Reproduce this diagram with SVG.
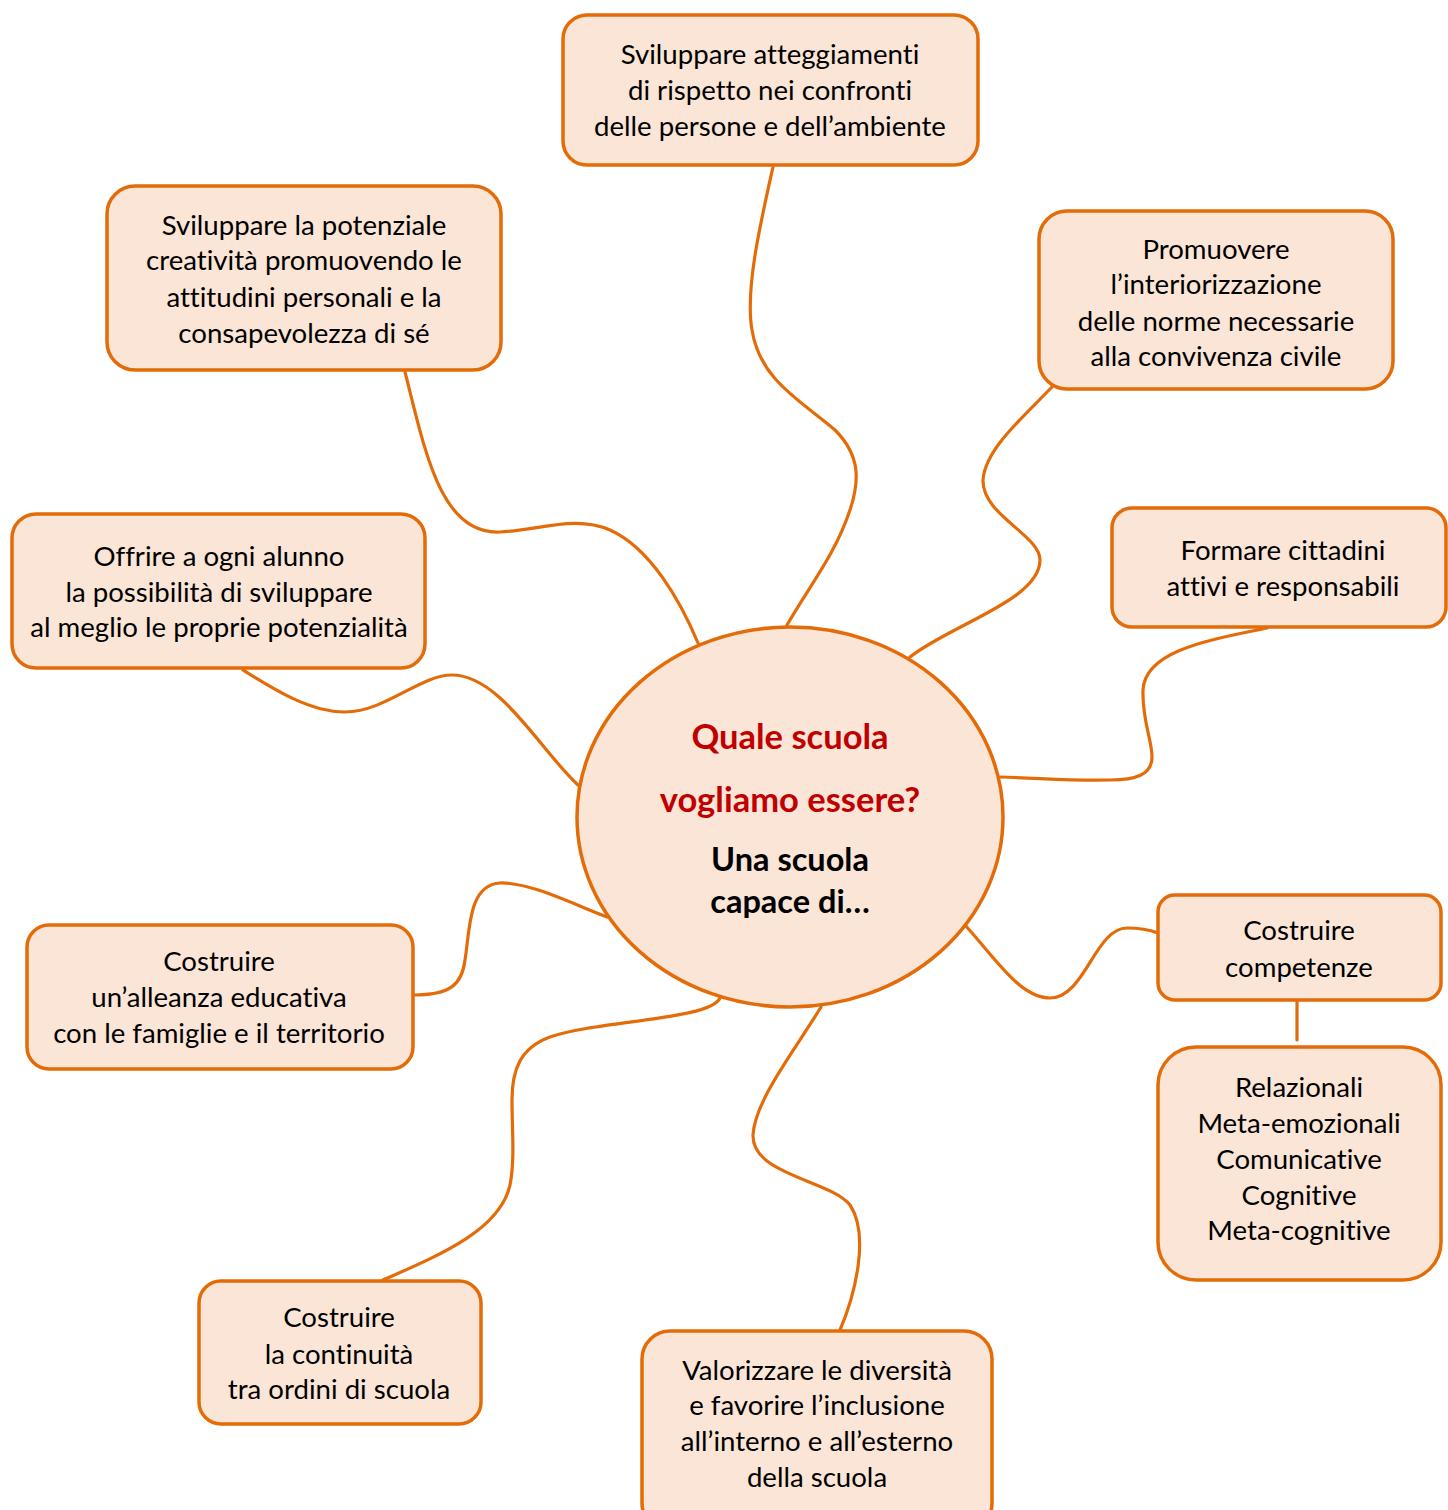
<svg xmlns="http://www.w3.org/2000/svg" width="1448" height="1510" viewBox="0 0 1448 1510">
<style>
.box{fill:#FBE5D6;stroke:#E36C09;stroke-width:3.5}
.con{fill:none;stroke:#E36C09;stroke-width:3.2;stroke-linecap:round}
.t{font-family:Lato,"Open Sans","Liberation Sans",sans-serif;font-size:27.6px;fill:#000;text-anchor:middle;font-variant-ligatures:none}
.h{font-family:Lato,"Open Sans","Liberation Sans",sans-serif;font-size:34.5px;font-weight:bold;text-anchor:middle;font-variant-ligatures:none}
.h2{font-family:Lato,"Open Sans","Liberation Sans",sans-serif;font-size:32.5px;font-weight:bold;text-anchor:middle;font-variant-ligatures:none}
</style>
<rect width="1448" height="1510" fill="#fff"/>
<g id="connectors">
<path class="con" d="M773,167 C760,225 745,290 752,330 C760,380 800,400 835,430 C860,455 860,480 850,510 C835,555 810,585 787,625"/>
<path class="con" d="M405,372 C425,450 440,535 500,532 C540,530 575,515 610,530 C650,548 680,600 698,643"/>
<path class="con" d="M1052,387 C1020,420 985,450 983,480 C982,515 1040,535 1040,560 C1040,600 950,625 910,657"/>
<path class="con" d="M1267,628 C1210,640 1145,650 1143,690 C1142,720 1152,740 1152,757 C1152,775 1135,780 1110,780 C1070,781 1040,778 1000,777"/>
<path class="con" d="M243,670 C275,690 310,712 345,712 C385,712 420,675 452,675 C500,675 540,750 578,785"/>
<path class="con" d="M413,995 C450,995 462,985 465,960 C470,930 468,885 500,883 C530,882 575,905 607,917"/>
<path class="con" d="M720,998 C710,1020 600,1020 550,1037 C520,1048 512,1070 512,1100 C512,1130 515,1160 510,1185 C500,1230 440,1255 383,1280"/>
<path class="con" d="M821,1007 C795,1050 755,1100 753,1135 C752,1175 830,1180 850,1205 C870,1235 855,1295 840,1330"/>
<path class="con" d="M965,925 C995,958 1020,998 1050,998 C1085,998 1095,928 1127,928 C1140,928 1150,930 1158,933"/>
<path class="con" d="M1297,1001 L1297,1040"/>
</g>
<g id="center">
<ellipse class="box" cx="790" cy="817" rx="213" ry="190"/>
<text class="h" x="790" y="749" fill="#C00000">Quale scuola</text>
<text class="h" x="790" y="812" fill="#C00000">vogliamo essere?</text>
<text class="h2" x="790" y="871" fill="#000">Una scuola</text>
<text class="h2" x="790" y="913" fill="#000">capace di…</text>
</g>
<g id="n-rispetto">
<rect class="box" x="563" y="15" width="415" height="150" rx="24"/>
<text class="t" x="770" y="64">Sviluppare atteggiamenti</text>
<text class="t" x="770" y="100">di rispetto nei confronti</text>
<text class="t" x="770" y="136">delle persone e dell’ambiente</text>
</g>
<g id="n-creativita">
<rect class="box" x="107" y="186" width="394" height="184" rx="28"/>
<text class="t" x="304" y="235">Sviluppare la potenziale</text>
<text class="t" x="304" y="270">creatività promuovendo le</text>
<text class="t" x="304" y="307">attitudini personali e la</text>
<text class="t" x="304" y="343">consapevolezza di sé</text>
</g>
<g id="n-norme">
<rect class="box" x="1039" y="211" width="354" height="178" rx="28"/>
<text class="t" x="1216" y="259">Promuovere</text>
<text class="t" x="1216" y="294">l’interiorizzazione</text>
<text class="t" x="1216" y="331">delle norme necessarie</text>
<text class="t" x="1216" y="366">alla convivenza civile</text>
</g>
<g id="n-cittadini">
<rect class="box" x="1112" y="508" width="334" height="119" rx="20"/>
<text class="t" x="1283" y="560">Formare cittadini</text>
<text class="t" x="1283" y="596">attivi e responsabili</text>
</g>
<g id="n-alunno">
<rect class="box" x="12" y="514" width="413" height="154" rx="24"/>
<text class="t" x="219" y="566">Offrire a ogni alunno</text>
<text class="t" x="219" y="602">la possibilità di sviluppare</text>
<text class="t" x="219" y="637">al meglio le proprie potenzialità</text>
</g>
<g id="n-competenze">
<rect class="box" x="1158" y="895" width="283" height="105" rx="17"/>
<text class="t" x="1299" y="940">Costruire</text>
<text class="t" x="1299" y="977">competenze</text>
</g>
<g id="n-tipi">
<rect class="box" x="1158" y="1047" width="283" height="233" rx="38"/>
<text class="t" x="1299" y="1097">Relazionali</text>
<text class="t" x="1299" y="1133">Meta-emozionali</text>
<text class="t" x="1299" y="1169">Comunicative</text>
<text class="t" x="1299" y="1205">Cognitive</text>
<text class="t" x="1299" y="1240">Meta-cognitive</text>
</g>
<g id="n-alleanza">
<rect class="box" x="27" y="925" width="386" height="144" rx="22"/>
<text class="t" x="219" y="971">Costruire</text>
<text class="t" x="219" y="1007">un’alleanza educativa</text>
<text class="t" x="219" y="1043">con le famiglie e il territorio</text>
</g>
<g id="n-continuita">
<rect class="box" x="199" y="1281" width="282" height="143" rx="22"/>
<text class="t" x="339" y="1327">Costruire</text>
<text class="t" x="339" y="1364">la continuità</text>
<text class="t" x="339" y="1399">tra ordini di scuola</text>
</g>
<g id="n-inclusione">
<rect class="box" x="642" y="1331" width="350" height="200" rx="28"/>
<text class="t" x="817" y="1380">Valorizzare le diversità</text>
<text class="t" x="817" y="1415">e favorire l’inclusione</text>
<text class="t" x="817" y="1451">all’interno e all’esterno</text>
<text class="t" x="817" y="1487">della scuola</text>
</g>
</svg>
